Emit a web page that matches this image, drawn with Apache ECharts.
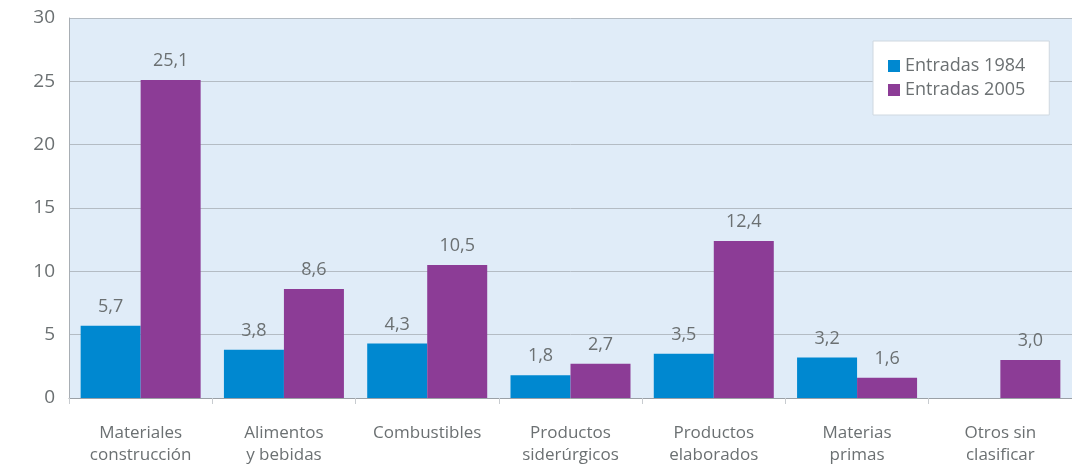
<!DOCTYPE html>
<html>
<head>
    <meta charset="utf-8">
    <title>Entradas</title>
    <script src="https://cdn.jsdelivr.net/npm/echarts@6/dist/echarts.min.js"></script>
    <style>
        html, body { margin: 0; padding: 0; background: #fff; }
    </style>
</head>
<body>
<div id="main" style="width: 1072px;height:466px;"></div>
<script>
    // datos
    var categories = ['Materiales\nconstrucción', 'Alimentos\ny bebidas', 'Combustibles', 'Productos\nsiderúrgicos',
        'Productos\nelaborados', 'Materias\nprimas', 'Otros sin\nclasificar'];
    var entradas1984 = [5.7, 3.8, 4.3, 1.8, 3.5, 3.2, null];
    var entradas2005 = [25.1, 8.6, 10.5, 2.7, 12.4, 1.6, 3.0];
    var seriesNames = ['Entradas 1984', 'Entradas 2005'];

    var textColor = '#6b7072';
    var fontFamily = '"Open Sans", "Noto Sans", sans-serif';

    var myChart = echarts.init(document.getElementById('main'));

    function labelFmt(p) {
        return p.value == null ? '' : p.value.toFixed(1).replace('.', ',');
    }

    var option = {
        animation: false,
        textStyle: {fontFamily: fontFamily},
        grid: {
            left: 69, right: 0, top: 18, bottom: 68,
            show: true, backgroundColor: '#e0ecf8', borderWidth: 0
        },
        legend: {
            orient: 'vertical',
            left: 873, top: 41,
            padding: [16, 24, 16, 15],
            backgroundColor: '#fff',
            borderColor: '#cfd8e0',
            borderWidth: 1,
            itemWidth: 12, itemHeight: 12,
            itemGap: 6,
            icon: 'rect',
            textStyle: {color: textColor, fontSize: 18, fontFamily: fontFamily},
            data: seriesNames
        },
        xAxis: {
            type: 'category',
            data: categories,
            axisLine: {lineStyle: {color: '#9aa0a6'}},
            axisTick: {show: true, length: 6, lineStyle: {color: '#c8ccd0'}},
            axisLabel: {color: textColor, fontSize: 17, lineHeight: 22, margin: 24, fontFamily: fontFamily}
        },
        yAxis: {
            type: 'value',
            min: 0, max: 30, interval: 5,
            axisLine: {show: true, lineStyle: {color: '#a8aeb4'}},
            axisTick: {show: false},
            splitLine: {lineStyle: {color: '#b4bcc4'}},
            axisLabel: {color: textColor, fontSize: 19, margin: 14, fontFamily: fontFamily}
        },
        series: [
            {
                name: seriesNames[0],
                type: 'bar',
                data: entradas1984,
                barWidth: 60,
                barGap: '0%',
                itemStyle: {color: '#0088d0'},
                label: {show: true, position: 'top', distance: 10, color: textColor, fontSize: 18, formatter: labelFmt}
            },
            {
                name: seriesNames[1],
                type: 'bar',
                data: entradas2005,
                barWidth: 60,
                barGap: '0%',
                itemStyle: {color: '#8c3c96'},
                label: {show: true, position: 'top', distance: 10, color: textColor, fontSize: 18, formatter: labelFmt}
            }
        ]
    };
    myChart.setOption(option);
</script>
</body>
</html>
